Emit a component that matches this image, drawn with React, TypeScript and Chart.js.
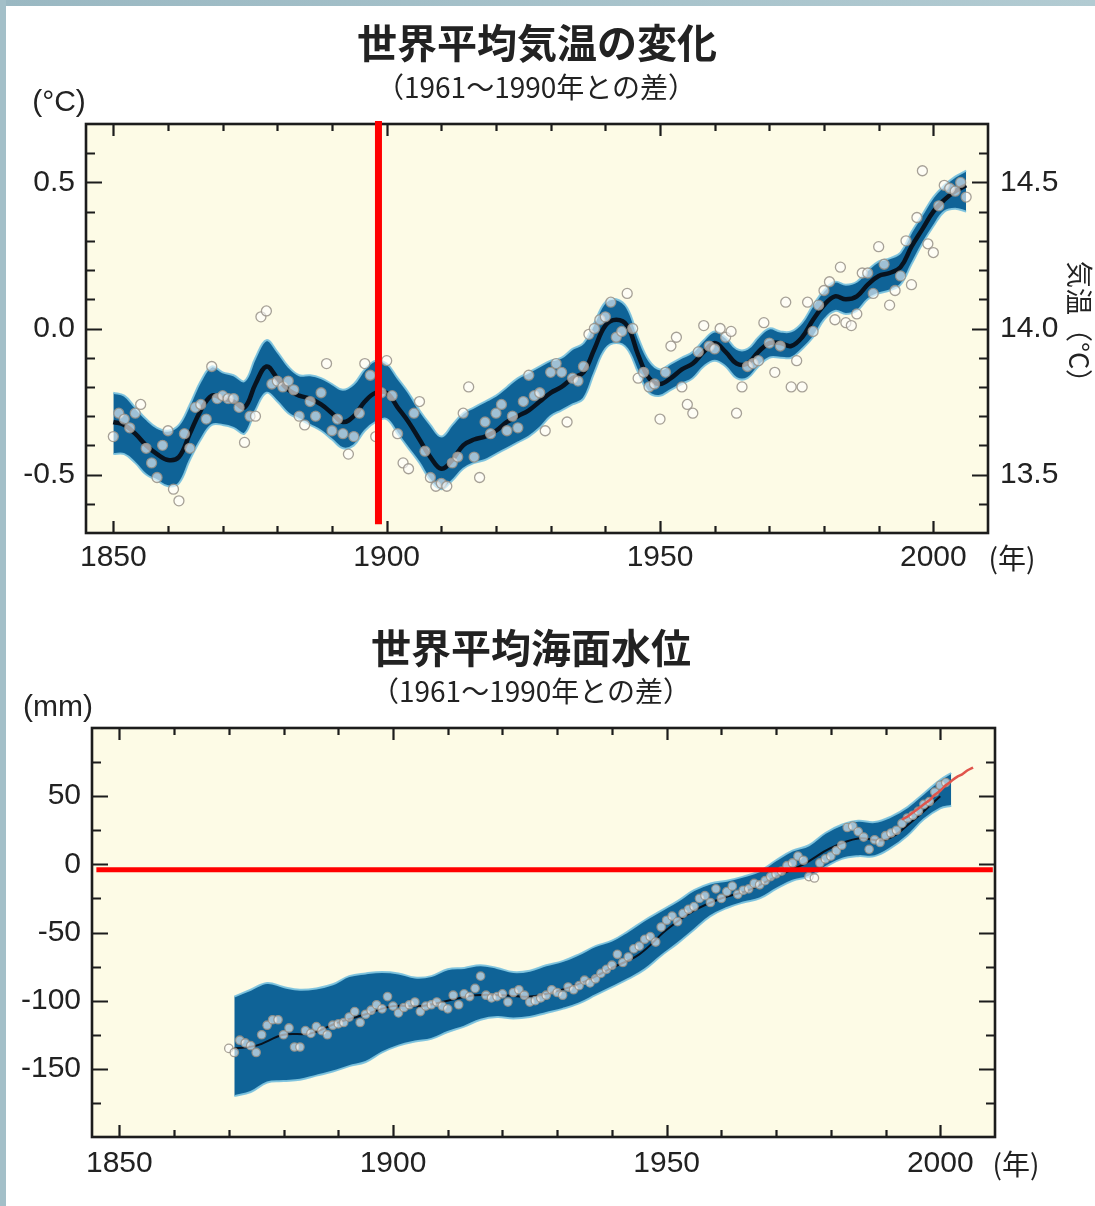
import React, { useEffect, useRef } from 'react';
import { Chart, registerables } from 'chart.js';

Chart.register(...registerables);

// ---------------- DATA: global mean temperature (anomaly vs 1961-1990, °C) ----------------
const tempAnnualStart = 1850;
const tempAnnual = [
  -0.37, -0.29, -0.31, -0.34, -0.29, -0.26, -0.41, -0.46, -0.51, -0.40,
  -0.35, -0.55, -0.59, -0.36, -0.41, -0.27, -0.26, -0.31, -0.13, -0.24,
  -0.23, -0.24, -0.24, -0.27, -0.39, -0.30, -0.30, 0.04, 0.06, -0.19,
  -0.18, -0.20, -0.18, -0.21, -0.30, -0.33, -0.25, -0.30, -0.22, -0.12,
  -0.35, -0.31, -0.36, -0.43, -0.37, -0.29, -0.12, -0.16, -0.37, -0.22,
  -0.11, -0.23, -0.36, -0.46, -0.48, -0.29, -0.25, -0.42, -0.51, -0.54,
  -0.53, -0.54, -0.46, -0.44, -0.29, -0.20, -0.44, -0.51, -0.32, -0.36,
  -0.29, -0.26, -0.35, -0.30, -0.34, -0.25, -0.16, -0.23, -0.22, -0.35,
  -0.15, -0.12, -0.15, -0.32, -0.17, -0.18, -0.13, -0.02, 0.00, 0.03,
  0.04, 0.09, -0.03, -0.01, 0.12, 0.00, -0.17, -0.15, -0.20, -0.19,
  -0.31, -0.15, -0.06, -0.03, -0.20, -0.26, -0.29, -0.08, 0.01, -0.06,
  -0.07, 0.00, -0.03, -0.01, -0.29, -0.20, -0.13, -0.12, -0.11, 0.02,
  -0.05, -0.15, -0.06, 0.09, -0.20, -0.11, -0.20, 0.09, -0.01, 0.08,
  0.13, 0.16, 0.03, 0.21, 0.02, 0.01, 0.05, 0.19, 0.19, 0.12,
  0.28, 0.22, 0.08, 0.13, 0.18, 0.30, 0.15, 0.38, 0.54, 0.29,
  0.26, 0.42, 0.49, 0.48, 0.47, 0.50, 0.45,
];
const tempBandYears = [
  1850, 1852, 1854, 1856, 1858, 1860, 1862, 1864, 1866, 1868, 1870, 1872, 1874, 1876, 1878,
  1880, 1882, 1884, 1886, 1888, 1890, 1892, 1894, 1896, 1898, 1900, 1902, 1904, 1906, 1908,
  1910, 1912, 1914, 1916, 1918, 1920, 1922, 1924, 1926, 1928, 1930, 1932, 1934, 1936, 1938,
  1940, 1942, 1944, 1946, 1948, 1950, 1952, 1954, 1956, 1958, 1960, 1962, 1964, 1966, 1968,
  1970, 1972, 1974, 1976, 1978, 1980, 1982, 1984, 1986, 1988, 1990, 1992, 1994, 1996, 1998,
  2000, 2002, 2004, 2006,
];
const tempUpper = [
  -0.22, -0.23, -0.27, -0.31, -0.34, -0.35, -0.33, -0.26, -0.18, -0.13, -0.15, -0.16, -0.18, -0.10, -0.04,
  -0.08, -0.13, -0.16, -0.16, -0.17, -0.19, -0.21, -0.19, -0.14, -0.11, -0.12, -0.17, -0.22, -0.28, -0.33,
  -0.37, -0.33, -0.29, -0.27, -0.25, -0.23, -0.20, -0.17, -0.15, -0.13, -0.11, -0.10, -0.07, -0.05, 0.02,
  0.09, 0.10, 0.07, -0.03, -0.11, -0.14, -0.12, -0.10, -0.08, -0.04, -0.01, -0.03, -0.07, -0.07, -0.03,
  0.00, -0.01, -0.01, 0.02, 0.08, 0.13, 0.16, 0.15, 0.16, 0.20, 0.23, 0.24, 0.26, 0.33, 0.39,
  0.45, 0.49, 0.52, 0.54,
];
const tempSmooth = [
  -0.32, -0.33, -0.36, -0.40, -0.43, -0.45, -0.44, -0.36, -0.28, -0.23, -0.24, -0.25, -0.27, -0.19, -0.13,
  -0.17, -0.21, -0.23, -0.24, -0.26, -0.29, -0.32, -0.30, -0.25, -0.22, -0.22, -0.27, -0.32, -0.38, -0.44,
  -0.48, -0.45, -0.40, -0.38, -0.37, -0.35, -0.32, -0.30, -0.28, -0.25, -0.22, -0.20, -0.17, -0.15, -0.07,
  0.01, 0.03, 0.01, -0.09, -0.17, -0.19, -0.17, -0.14, -0.12, -0.08, -0.05, -0.08, -0.12, -0.12, -0.08,
  -0.05, -0.05, -0.06, -0.03, 0.03, 0.08, 0.11, 0.10, 0.11, 0.15, 0.18, 0.19, 0.21, 0.28, 0.34,
  0.40, 0.44, 0.47, 0.49,
];
const tempLower = [
  -0.43, -0.43, -0.46, -0.50, -0.52, -0.54, -0.53, -0.45, -0.38, -0.33, -0.33, -0.34, -0.36, -0.28, -0.22,
  -0.25, -0.29, -0.31, -0.33, -0.35, -0.38, -0.41, -0.40, -0.35, -0.32, -0.31, -0.36, -0.41, -0.46, -0.52,
  -0.55, -0.52, -0.48, -0.46, -0.45, -0.43, -0.41, -0.39, -0.37, -0.34, -0.30, -0.28, -0.26, -0.24, -0.15,
  -0.07, -0.05, -0.07, -0.15, -0.22, -0.23, -0.21, -0.19, -0.17, -0.13, -0.11, -0.13, -0.17, -0.17, -0.13,
  -0.10, -0.10, -0.10, -0.07, -0.03, 0.03, 0.06, 0.05, 0.06, 0.10, 0.12, 0.13, 0.15, 0.22, 0.29,
  0.35, 0.40, 0.41, 0.40,
];
const tempLeftTicks = { min: -0.7, max: 0.7, step: 0.1, labelStep: 0.5 };
const tempRightOffset = 14; // right axis = anomaly + 14 °C
const tempMarkYear = 1898.5;

// ---------------- DATA: global mean sea level (vs 1961-1990, mm) ----------------
const seaAnnualStart = 1870;
const seaAnnual = [
  -135, -138, -129, -131, -133, -138, -125, -118, -114, -114,
  -125, -120, -134, -134, -122, -124, -119, -122, -125, -118,
  -117, -116, -112, -108, -116, -110, -107, -103, -106, -97,
  -104, -109, -105, -103, -101, -108, -104, -103, -101, -104,
  -106, -96, -103, -95, -97, -91, -82, -96, -98, -97,
  -95, -101, -94, -92, -96, -101, -100, -98, -96, -92,
  -94, -96, -90, -92, -89, -85, -87, -84, -80, -77,
  -74, -66, -72, -68, -62, -60, -55, -53, -57, -46,
  -41, -38, -42, -36, -33, -31, -25, -23, -28, -18,
  -25, -20, -16, -22, -19, -18, -14, -15, -12, -9,
  -7, -5, -1, 1, 6, 3, -9, -10, 1, 4,
  6, 10, 14, 27, 28, 24, 20, 11, 18, 16,
  21, 23, 25, 30, 34, 36, 39, 44, 46, 53,
  58, 60,
];
const seaBandYears = [
  1871, 1874, 1877, 1880, 1883, 1886, 1889, 1892, 1895, 1898, 1901, 1904, 1907, 1910, 1913,
  1916, 1919, 1922, 1925, 1928, 1931, 1934, 1937, 1940, 1943, 1946, 1949, 1952, 1955, 1958,
  1961, 1964, 1967, 1970, 1973, 1976, 1979, 1982, 1985, 1988, 1991, 1994, 1997, 2000, 2002,
];
const seaUpper = [
  -97, -92, -87, -90, -92, -91, -88, -82, -80, -79, -80, -83, -82, -77, -76,
  -74, -76, -79, -78, -74, -71, -66, -60, -56, -49, -41, -34, -27, -19, -14,
  -12, -9, -5, 3, 10, 14, 23, 29, 32, 31, 35, 42, 52, 62, 67,
];
const seaLower = [
  -170, -167, -160, -159, -158, -155, -152, -148, -145, -138, -133, -130, -128, -123, -119,
  -114, -112, -113, -112, -109, -106, -102, -96, -90, -84, -77, -67, -58, -48, -38,
  -32, -28, -25, -18, -12, -9, -2, 4, 6, 6, 12, 21, 33, 41, 43,
];
const seaMeanYears = [
  1871, 1875, 1880, 1885, 1890, 1895, 1900, 1905, 1910, 1915, 1920, 1925, 1930, 1935,
  1940, 1945, 1950, 1955, 1960, 1965, 1970, 1975, 1980, 1985, 1990, 1995, 2000,
];
const seaMean = [
  -135, -133, -125, -124, -116, -110, -104, -104, -100, -96, -96, -97, -93, -86,
  -76, -66, -48, -34, -25, -19, -9, 0, 12, 19, 18, 32, 50,
];
const satYears = [1993, 1994, 1995, 1996, 1997, 1998, 1999, 2000, 2001, 2002, 2003, 2004, 2005, 2006];
const satValues = [33, 35, 38, 41, 44, 47, 51, 54, 58, 61, 64, 66, 69, 71];
const seaTicks = { min: -200, max: 100, step: 25, labelStep: 50 };
const seaMarkLevel = -4;

const xTicks = { min: 1845, max: 2010, step: 10, labelStep: 50, first: 1850, last: 2000 };

// ---------------- STYLE ----------------
const FONT_NUM = '"Liberation Sans", Arial, "Noto Sans CJK JP", sans-serif';
const FONT_JP = '"Noto Sans CJK JP", "Noto Sans CJK SC", sans-serif';
const TEXT = '#222222';
const PLOT_BG = '#fdfbe6';
const BAND = '#0f6397';
const HALO = 'rgba(125,195,222,0.95)';
const FRAME = '#1c1c1c';

function isStep(v: number, step: number) {
  const r = v / step;
  return Math.abs(r - Math.round(r)) < 1e-6;
}

const toXY = (xs: number[], ys: number[]) => xs.map((x, i) => ({ x, y: ys[i] }));
const fromStart = (start: number, ys: number[]) => ys.map((y, i) => ({ x: start + i, y }));

function framePlugin(cfg: any) {
  return {
    id: 'frameTicks',
    beforeDraw(chart: any) {
      const { ctx, chartArea: a } = chart;
      ctx.save();
      ctx.fillStyle = PLOT_BG;
      ctx.fillRect(a.left, a.top, a.right - a.left, a.bottom - a.top);
      ctx.restore();
    },
    afterDatasetsDraw(chart: any) {
      const { ctx, chartArea: a } = chart;
      const xs = chart.scales.x;
      const ys = chart.scales.y;
      ctx.save();
      ctx.strokeStyle = FRAME;
      ctx.lineWidth = 2.2;
      ctx.beginPath();
      xs.ticks.forEach((t: any) => {
        const px = Math.round(xs.getPixelForValue(t.value)) + 0.5;
        const len = isStep(t.value, cfg.xMajor) ? cfg.xMajorLen : cfg.xMinorLen;
        ctx.moveTo(px, a.bottom);
        ctx.lineTo(px, a.bottom - len);
        ctx.moveTo(px, a.top);
        ctx.lineTo(px, a.top + len);
      });
      ys.ticks.forEach((t: any) => {
        if (t.value <= ys.min + 1e-9 || t.value >= ys.max - 1e-9) return;
        const py = Math.round(ys.getPixelForValue(t.value)) + 0.5;
        const len = isStep(t.value, cfg.yMajor) ? cfg.yMajorLen : cfg.yMinorLen;
        ctx.moveTo(a.left, py);
        ctx.lineTo(a.left + len, py);
        ctx.moveTo(a.right, py);
        ctx.lineTo(a.right - len, py);
      });
      ctx.stroke();
      ctx.lineWidth = 2.6;
      ctx.strokeRect(a.left, a.top, a.right - a.left, a.bottom - a.top);
      ctx.restore();
    },
  };
}

function redMarkPlugin(cfg: any) {
  return {
    id: 'redMark',
    afterDraw(chart: any) {
      const { ctx } = chart;
      const xs = chart.scales.x;
      const ys = chart.scales.y;
      ctx.save();
      ctx.strokeStyle = '#ff0000';
      ctx.lineWidth = cfg.width;
      ctx.lineCap = 'butt';
      ctx.beginPath();
      if (cfg.x !== undefined) {
        const px = xs.getPixelForValue(cfg.x);
        ctx.moveTo(px, ys.getPixelForValue(cfg.from));
        ctx.lineTo(px, ys.getPixelForValue(cfg.to));
      } else {
        const py = ys.getPixelForValue(cfg.y);
        ctx.moveTo(xs.getPixelForValue(cfg.from), py);
        ctx.lineTo(xs.getPixelForValue(cfg.to), py);
      }
      ctx.stroke();
      ctx.restore();
    },
  };
}

function xScale(height: number, padding: number) {
  return {
    type: 'linear',
    position: 'bottom',
    min: xTicks.min,
    max: xTicks.max,
    afterBuildTicks: (s: any) => {
      s.ticks = s.ticks.filter(
        (t: any) => t.value >= xTicks.first && t.value <= xTicks.last && isStep(t.value, xTicks.step)
      );
    },
    afterFit: (s: any) => {
      s.height = height;
    },
    ticks: {
      stepSize: xTicks.step,
      includeBounds: false,
      autoSkip: false,
      maxRotation: 0,
      padding,
      color: TEXT,
      font: { family: FONT_NUM, size: 30 },
      callback: (v: number) => (isStep(v, xTicks.labelStep) ? String(v) : ''),
    },
    grid: { display: false, drawTicks: false },
    border: { display: false },
  };
}

function pointStyle(radius: number) {
  return {
    showLine: false,
    pointRadius: radius,
    pointHoverRadius: radius,
    pointBackgroundColor: 'rgba(255,255,255,0.6)',
    pointBorderColor: 'rgba(150,145,135,0.85)',
    pointBorderWidth: 1.3,
  };
}

function bandSets(years: number[], upper: number[], lower: number[]) {
  return [
    {
      label: 'upper',
      data: toXY(years, upper),
      borderColor: HALO,
      borderWidth: 2,
      pointRadius: 0,
      tension: 0.4,
      fill: false,
    },
    {
      label: 'lower',
      data: toXY(years, lower),
      borderColor: HALO,
      borderWidth: 2,
      pointRadius: 0,
      tension: 0.4,
      fill: '-1',
      backgroundColor: BAND,
    },
  ];
}

function tempConfig(): any {
  return {
    type: 'line',
    data: {
      datasets: [
        { label: 'annual', data: fromStart(tempAnnualStart, tempAnnual), ...pointStyle(5) },
        {
          label: 'smooth',
          data: toXY(tempBandYears, tempSmooth),
          borderColor: '#08131f',
          borderWidth: 4.5,
          pointRadius: 0,
          tension: 0.4,
          fill: false,
        },
        ...bandSets(tempBandYears, tempUpper, tempLower),
      ],
    },
    options: {
      responsive: false,
      animation: false,
      devicePixelRatio: 1,
      layout: { padding: { top: 124, left: 0, right: 0, bottom: 0 } },
      plugins: { legend: { display: false }, tooltip: { enabled: false }, title: { display: false } },
      scales: {
        x: xScale(57, 7),
        y: {
          type: 'linear',
          position: 'left',
          min: tempLeftTicks.min,
          max: tempLeftTicks.max,
          afterFit: (s: any) => {
            s.width = 86;
          },
          ticks: {
            stepSize: tempLeftTicks.step,
            autoSkip: false,
            padding: 11,
            color: TEXT,
            font: { family: FONT_NUM, size: 30 },
            callback: (v: number) =>
              isStep(v, tempLeftTicks.labelStep) ? (Math.abs(v) < 1e-9 ? '0.0' : v.toFixed(1)) : '',
          },
          grid: { display: false, drawTicks: false },
          border: { display: false },
        },
        y2: {
          type: 'linear',
          position: 'right',
          min: tempLeftTicks.min + tempRightOffset,
          max: tempLeftTicks.max + tempRightOffset,
          afterFit: (s: any) => {
            s.width = 107;
          },
          ticks: {
            stepSize: tempLeftTicks.step,
            autoSkip: false,
            padding: 12,
            color: TEXT,
            font: { family: FONT_NUM, size: 30 },
            callback: (v: number) => (isStep(v, tempLeftTicks.labelStep) ? v.toFixed(1) : ''),
          },
          title: {
            display: true,
            text: '気温（°C）',
            color: TEXT,
            font: { family: FONT_JP, size: 27 },
            padding: { top: 0, bottom: 0 },
          },
          grid: { display: false, drawTicks: false },
          border: { display: false },
        },
      },
    },
    plugins: [
      framePlugin({ xMajor: 50, xMajorLen: 12, xMinorLen: 7, yMajor: 0.5, yMajorLen: 16, yMinorLen: 9 }),
      redMarkPlugin({ x: tempMarkYear, from: 0.71, to: -0.67, width: 7 }),
    ],
  };
}

function seaConfig(): any {
  return {
    type: 'line',
    data: {
      datasets: [
        {
          label: 'satellite',
          data: toXY(satYears, satValues),
          borderColor: '#e0554c',
          borderWidth: 2.5,
          pointRadius: 0,
          tension: 0.3,
          fill: false,
        },
        { label: 'annual', data: fromStart(seaAnnualStart, seaAnnual), ...pointStyle(4.2) },
        {
          label: 'mean',
          data: toXY(seaMeanYears, seaMean),
          borderColor: '#08131f',
          borderWidth: 2,
          pointRadius: 0,
          tension: 0.4,
          fill: false,
        },
        ...bandSets(seaBandYears, seaUpper, seaLower),
      ],
    },
    options: {
      responsive: false,
      animation: false,
      devicePixelRatio: 1,
      layout: { padding: { top: 138, left: 0, right: 100, bottom: 0 } },
      plugins: { legend: { display: false }, tooltip: { enabled: false }, title: { display: false } },
      scales: {
        x: xScale(69, 9),
        y: {
          type: 'linear',
          position: 'left',
          min: seaTicks.min,
          max: seaTicks.max,
          afterFit: (s: any) => {
            s.width = 92;
          },
          ticks: {
            stepSize: seaTicks.step,
            autoSkip: false,
            padding: 11,
            color: TEXT,
            font: { family: FONT_NUM, size: 30 },
            callback: (v: number) =>
              isStep(v, seaTicks.labelStep) && v > seaTicks.min && v < seaTicks.max ? String(Math.round(v)) : '',
          },
          grid: { display: false, drawTicks: false },
          border: { display: false },
        },
      },
    },
    plugins: [
      framePlugin({ xMajor: 50, xMajorLen: 12, xMinorLen: 7, yMajor: 50, yMajorLen: 16, yMinorLen: 9 }),
      redMarkPlugin({ y: seaMarkLevel, from: 1845.8, to: 2009.6, width: 5 }),
    ],
  };
}

function ChartCanvas({ top, height, make }: { top: number; height: number; make: () => any }) {
  const ref = useRef<HTMLCanvasElement | null>(null);
  useEffect(() => {
    if (!ref.current) return;
    const chart = new Chart(ref.current, make());
    return () => chart.destroy();
  }, []);
  return (
    <canvas
      ref={ref}
      width={1095}
      height={height}
      style={{ position: 'absolute', left: 0, top, width: 1095, height, display: 'block' }}
    />
  );
}

function Label({ x, y, text, size, family, weight }: any) {
  return (
    <div
      style={{
        position: 'absolute',
        left: x,
        top: y,
        transform: 'translate(-50%, -50%)',
        fontFamily: family,
        fontSize: size,
        fontWeight: weight || 400,
        lineHeight: 1,
        color: TEXT,
        whiteSpace: 'nowrap',
      }}
    >
      {text}
    </div>
  );
}

export default function App() {
  return (
    <div
      style={{
        position: 'absolute',
        left: 0,
        top: 0,
        width: 1095,
        height: 1206,
        background: '#ffffff',
        overflow: 'hidden',
      }}
    >
      <ChartCanvas top={0} height={590} make={tempConfig} />
      <ChartCanvas top={590} height={616} make={seaConfig} />

      <Label x={537} y={41} text="世界平均気温の変化" size={40} family={FONT_JP} weight={700} />
      <Label x={536} y={86} text="（1961～1990年との差）" size={28} family={FONT_JP} />
      <Label x={59} y={101} text="(°C)" size={30} family={FONT_NUM} />
      <Label x={1012} y={557} text="(年)" size={28} family={FONT_JP} />

      <Label x={531} y={646} text="世界平均海面水位" size={40} family={FONT_JP} weight={700} />
      <Label x={531} y={690} text="（1961～1990年との差）" size={28} family={FONT_JP} />
      <Label x={58} y={706} text="(mm)" size={30} family={FONT_NUM} />
      <Label x={1016} y={1163} text="(年)" size={28} family={FONT_JP} />

      <div
        style={{
          position: 'absolute',
          left: 0,
          top: 0,
          width: 1095,
          height: 6,
          background: 'linear-gradient(90deg, #9ab8c2, #b2cbd2)',
        }}
      />
      <div style={{ position: 'absolute', left: 0, top: 0, width: 6, height: 1206, background: '#a3bfc8' }} />
    </div>
  );
}
